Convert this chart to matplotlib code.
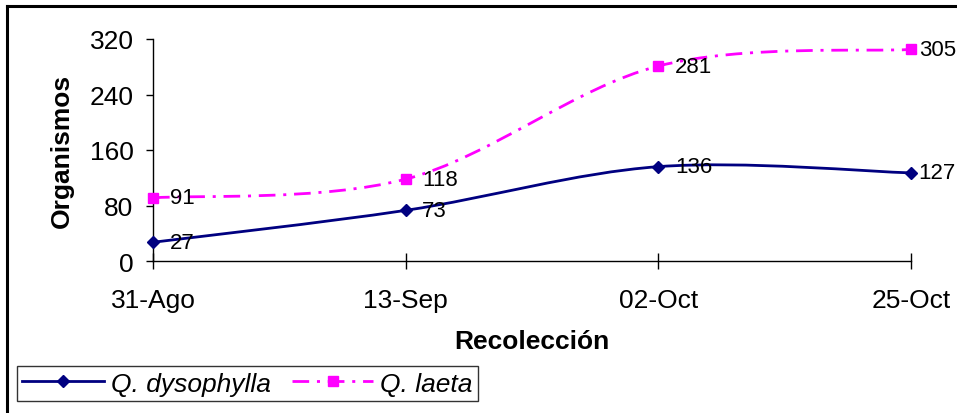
import numpy as np
import matplotlib
matplotlib.use("Agg")
import matplotlib.pyplot as plt
from matplotlib.path import Path
from matplotlib.patches import PathPatch
from matplotlib.lines import Line2D

plt.rcParams['font.family'] = ['Liberation Sans', 'DejaVu Sans']

fechas = ["31-Ago", "13-Sep", "02-Oct", "25-Oct"]
dysophylla = [27, 73, 136, 127]
laeta = [91, 118, 281, 305]

NAVY = "#000080"
MAGENTA = "#FF00FF"
FS = 19
FS_DATA = 16


def curva_suave(xs, ys):
    # Excel-style smoothed line: Catmull-Rom as cubic Bezier segments
    p = np.column_stack([xs, ys]).astype(float)
    ext = np.vstack([p[0], p, p[-1]])
    verts = [tuple(p[0])]
    codes = [Path.MOVETO]
    for i in range(len(p) - 1):
        p0, p1, p2, p3 = ext[i], ext[i + 1], ext[i + 2], ext[i + 3]
        c1 = p1 + (p2 - p0) / 6.0
        c2 = p2 - (p3 - p1) / 6.0
        verts += [tuple(c1), tuple(c2), tuple(p2)]
        codes += [Path.CURVE4] * 3
    return Path(verts, codes)


fig = plt.figure(figsize=(9.57, 4.14), dpi=100)
ax = fig.add_axes([153 / 957, 1 - 262 / 414, (911 - 153) / 957, (262 - 40) / 414])

x = np.arange(len(fechas))
dash_dot = (0, (6.0, 2.8, 1.1, 2.8))

ax.add_patch(PathPatch(curva_suave(x, dysophylla), fill=False, edgecolor=NAVY,
                       lw=2.0, clip_on=False, zorder=3))
ax.add_patch(PathPatch(curva_suave(x, laeta), fill=False, edgecolor=MAGENTA,
                       lw=2.0, linestyle=dash_dot, clip_on=False, zorder=3))
ax.plot(x, dysophylla, linestyle="none", marker="D", ms=6.5, color=NAVY,
        clip_on=False, zorder=4)
ax.plot(x, laeta, linestyle="none", marker="s", ms=7.5, color=MAGENTA,
        clip_on=False, zorder=4)

# labels at the last category are pulled in to fit the chart area
for serie in (dysophylla, laeta):
    for xi, v in zip(x, serie):
        dx = 5.5 if xi == x[-1] else 12
        ax.annotate(str(v), (xi, v), xytext=(dx, 0), textcoords="offset points",
                    ha="left", va="center", fontsize=FS_DATA, zorder=5)

ax.set_xlim(0, 3)
ax.set_ylim(0, 320)
ax.set_xticks(x)
ax.set_xticklabels(fechas)
ax.set_yticks([0, 80, 160, 240, 320])
ax.tick_params(axis="y", direction="out", length=5, width=1, pad=9, labelsize=FS)
ax.tick_params(axis="x", direction="inout", length=11, width=1, pad=14, labelsize=FS)
for s in ["top", "right"]:
    ax.spines[s].set_visible(False)
for s in ["left", "bottom"]:
    ax.spines[s].set_linewidth(1)

ax.set_xlabel("Recolección", fontsize=FS, fontweight="bold")
ax.set_ylabel("Organismos", fontsize=FS, fontweight="bold")
ax.xaxis.set_label_coords(0.5, -0.305)
ax.yaxis.set_label_coords(-0.104, 0.5)

handles = [
    Line2D([], [], color=NAVY, lw=2.0, marker="D", ms=6),
    Line2D([], [], color=MAGENTA, lw=2.0, linestyle=dash_dot, marker="s", ms=7),
]
leg = fig.legend(handles, ["Q. dysophylla", "Q. laeta"], ncol=2,
                 loc="lower left", bbox_to_anchor=(17 / 957, 1 - 402 / 414),
                 prop={"size": FS, "style": "italic"}, frameon=True,
                 fancybox=False, shadow=False, handlelength=3.1,
                 handletextpad=0.25, columnspacing=0.8, borderpad=0.2,
                 borderaxespad=0)
leg.get_frame().set_edgecolor("black")
leg.get_frame().set_linewidth(1)

# chart area border (left and top visible)
fig.add_artist(Line2D([7 / 957, 7 / 957], [0, 1 - 7 / 414], color="black",
                      lw=2.2, transform=fig.transFigure))
fig.add_artist(Line2D([7 / 957, 1], [1 - 7 / 414, 1 - 7 / 414], color="black",
                      lw=2.2, transform=fig.transFigure))

fig.savefig("out.png", dpi=100)
